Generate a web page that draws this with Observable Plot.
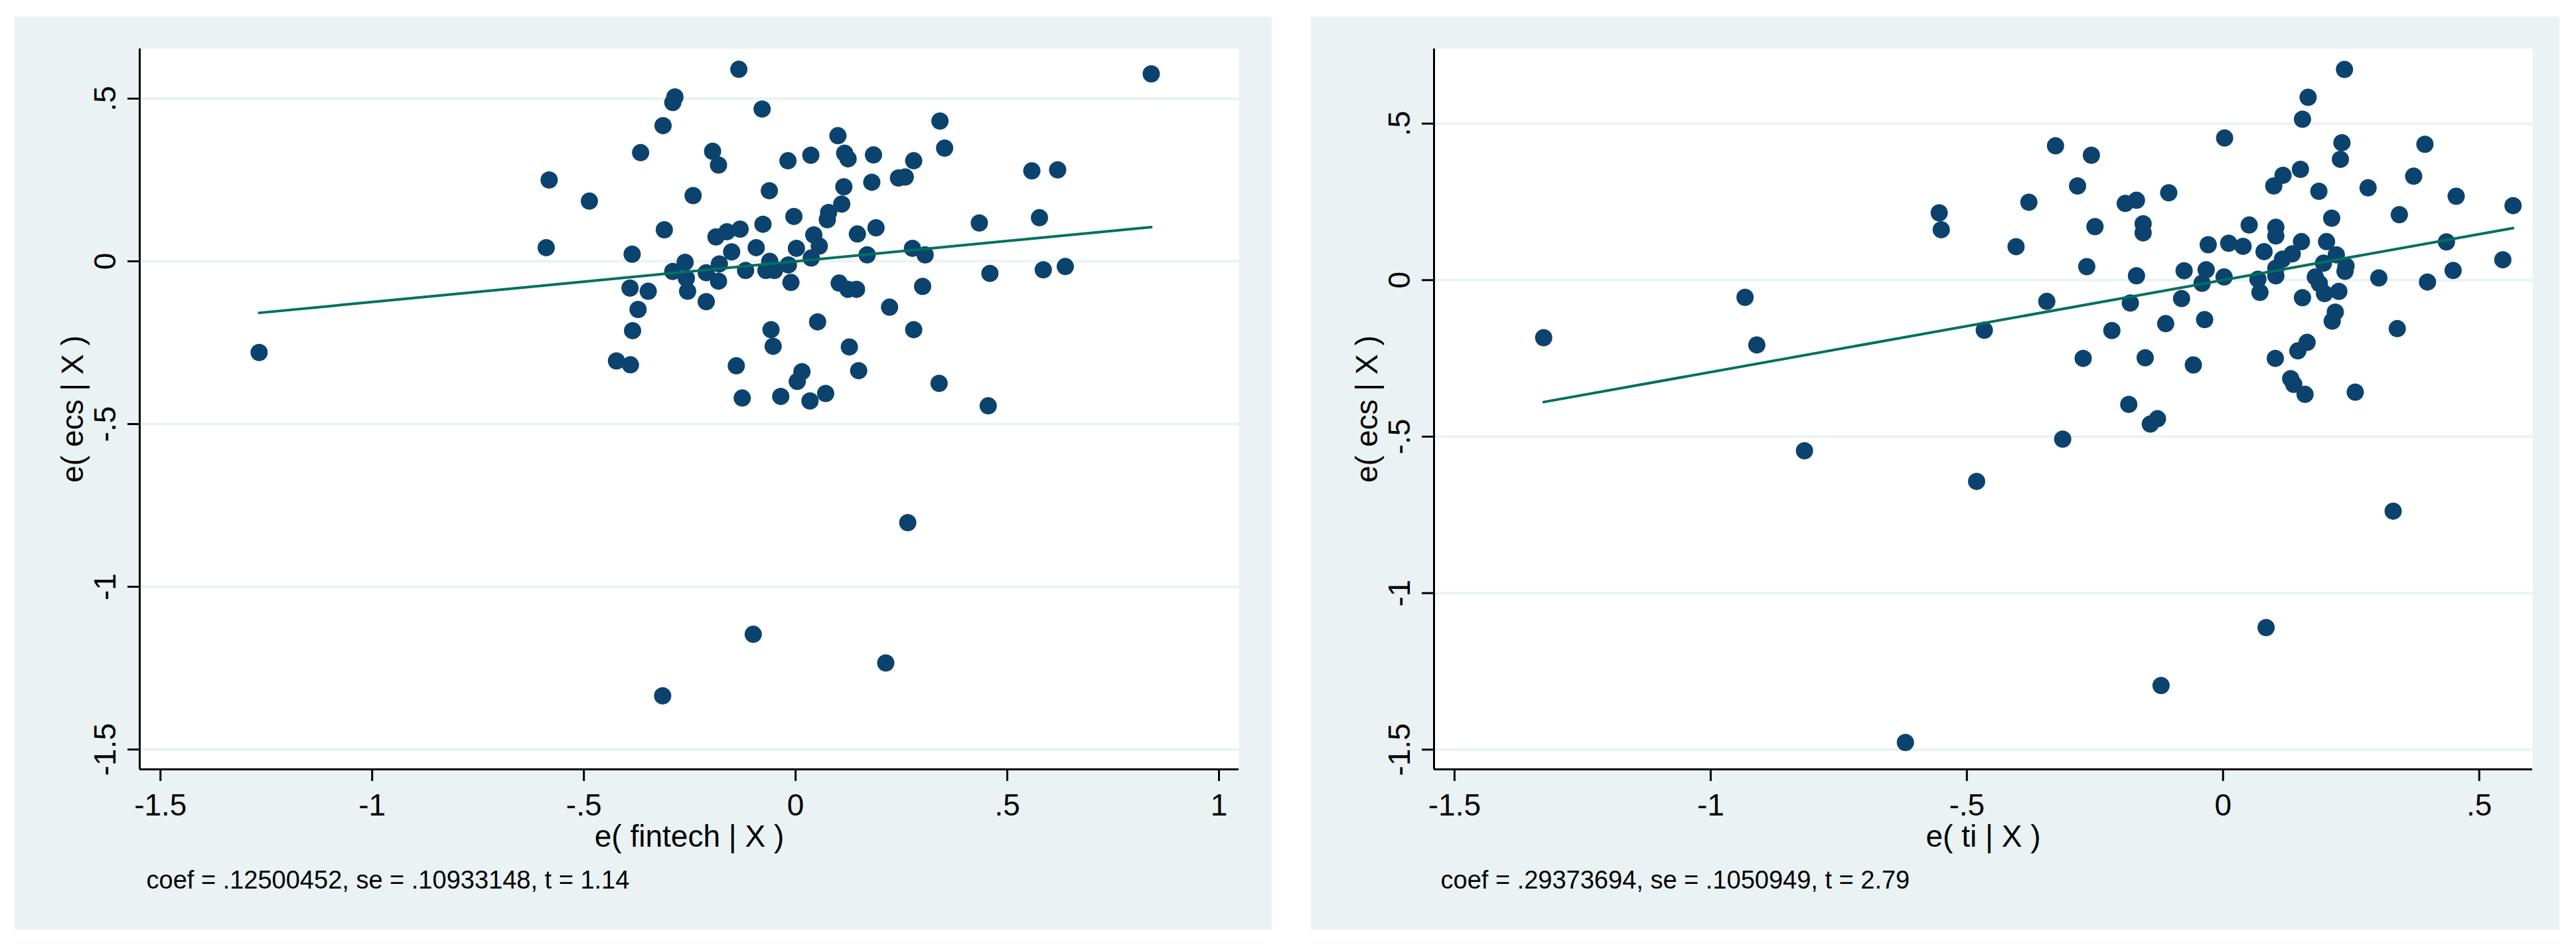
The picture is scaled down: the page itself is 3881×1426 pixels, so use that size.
<!DOCTYPE html>
<html><head><meta charset="utf-8">
<script src="https://cdn.jsdelivr.net/npm/d3@7"></script>
<script src="https://cdn.jsdelivr.net/npm/@observablehq/plot@0.6"></script>
<style>
html,body{margin:0;padding:0;background:#fff;}
#page{position:relative;width:3881px;height:1426px;background:#fff;overflow:hidden;font-family:"Liberation Sans",Arial,sans-serif;}
.panel{position:absolute;background:#eaf2f3;}
</style></head><body><div id="page"></div>
<script>
// Left panel: e( fintech | X ) vs e( ecs | X )
const fintechX = [-0.134,-0.290,-0.285,-0.079,-0.313,0.341,0.100,-0.366,-0.196,-0.182,-0.018,0.036,0.116,0.124,0.184,0.279,0.352,0.558,0.619,-0.582,-0.487,-0.242,-0.062,0.114,0.180,0.243,0.259,0.109,0.078,0.075,-0.310,-0.004,-0.077,0.434,0.576,-0.188,-0.162,-0.131,0.146,0.190,0.043,0.056,-0.589,-0.386,-0.151,-0.093,0.002,0.037,0.169,0.276,0.306,-0.290,-0.261,-0.258,-0.211,-0.180,-0.182,-0.118,-0.061,-0.070,-0.050,-0.017,-0.011,-0.391,-0.348,-0.255,-0.211,-0.372,-0.385,0.103,0.124,0.144,0.300,0.459,0.585,0.637,0.222,0.052,-0.058,-0.053,0.279,0.127,-0.423,-0.390,-0.140,0.015,0.004,0.149,0.339,-0.126,-0.035,0.034,0.071,0.455,0.265,-0.100,0.213,-0.314,-1.267,0.840];
const fintechY = [0.590,0.488,0.505,0.468,0.417,0.431,0.386,0.334,0.338,0.296,0.309,0.326,0.332,0.315,0.327,0.309,0.348,0.278,0.281,0.250,0.185,0.202,0.217,0.229,0.243,0.256,0.259,0.176,0.150,0.128,0.097,0.138,0.114,0.118,0.134,0.075,0.091,0.099,0.084,0.103,0.081,0.047,0.042,0.022,0.029,0.042,0.040,0.010,0.020,0.040,0.020,-0.031,-0.003,-0.052,-0.035,-0.008,-0.061,-0.028,0.000,-0.028,-0.028,-0.011,-0.065,-0.082,-0.092,-0.092,-0.124,-0.148,-0.213,-0.067,-0.086,-0.086,-0.077,-0.037,-0.026,-0.016,-0.141,-0.186,-0.210,-0.261,-0.210,-0.263,-0.306,-0.318,-0.321,-0.339,-0.369,-0.336,-0.375,-0.420,-0.415,-0.429,-0.406,-0.444,-0.803,-1.146,-1.234,-1.335,-0.280,0.576];

// Right panel: e( ti | X ) vs e( ecs | X )
const tiX = [0.237,0.166,0.155,0.003,-0.327,-0.257,0.232,0.229,0.394,0.151,0.117,0.099,0.372,-0.284,0.283,0.187,-0.106,0.455,-0.379,-0.191,-0.169,0.566,-0.554,-0.550,0.212,0.344,-0.250,-0.156,-0.156,0.051,0.103,0.103,-0.404,-0.029,0.011,0.039,0.080,0.153,0.202,0.135,0.116,0.103,0.103,0.221,0.240,0.238,0.196,-0.266,-0.169,-0.076,-0.033,-0.041,0.002,0.068,0.072,0.180,0.188,0.198,0.226,0.304,0.399,0.449,0.546,0.436,0.155,-0.344,-0.181,-0.081,-0.466,-0.217,-0.112,-0.036,0.219,0.213,0.340,0.164,0.146,-0.273,-0.152,-0.058,0.102,0.132,0.138,0.160,0.258,-0.184,-0.128,-0.142,-0.313,-0.481,0.332,0.084,-0.121,-0.620,-1.326,-0.933,-0.910,-0.817];
const tiY = [0.673,0.584,0.514,0.454,0.429,0.399,0.439,0.386,0.434,0.354,0.335,0.301,0.332,0.301,0.295,0.284,0.279,0.268,0.249,0.245,0.255,0.238,0.215,0.161,0.198,0.209,0.171,0.180,0.151,0.176,0.169,0.141,0.107,0.113,0.118,0.108,0.091,0.123,0.123,0.084,0.067,0.038,0.014,0.081,0.045,0.028,0.054,0.043,0.014,0.030,0.033,-0.010,0.010,0.003,-0.039,0.010,-0.011,-0.043,-0.036,0.007,-0.006,0.031,0.065,0.122,-0.056,-0.068,-0.073,-0.059,-0.160,-0.161,-0.139,-0.126,-0.102,-0.131,-0.155,-0.199,-0.226,-0.250,-0.248,-0.271,-0.250,-0.315,-0.333,-0.365,-0.358,-0.397,-0.443,-0.460,-0.508,-0.643,-0.738,-1.110,-1.295,-1.477,-0.184,-0.055,-0.207,-0.545];

const xTicksLeft = [-1.5,-1,-0.5,0,0.5,1];
const xTicksRight = [-1.5,-1,-0.5,0,0.5];
const yTicks = [-1.5,-1,-0.5,0,0.5];
const xTitles = ["e( fintech | X )","e( ti | X )"];
const yTitle = "e( ecs | X )";
const coefs = [0.12500452, 0.29373694];
const ses = [0.10933148, 0.1050949];
const tstats = ["1.14", "2.79"];

const stataFmt = d => String(d).replace("0.", ".");
const decFmt = v => String(v).replace(/^0\./, ".");

const BG = "#eaf2f3";
const FONT = '"Liberation Sans", Arial, sans-serif';

function drawPanel(cfg) {
  const page = document.getElementById("page");
  const div = document.createElement("div");
  div.className = "panel";
  Object.assign(div.style, {left: cfg.left + "px", top: "25px", width: cfg.width + "px", height: "1375px"});
  page.appendChild(div);
  const pts = cfg.xs.map((x, i) => ({x, y: cfg.ys[i]}));
  const [x0, x1] = d3.extent(cfg.xs);
  const fit = [{x: x0, y: cfg.coef * x0}, {x: x1, y: cfg.coef * x1}];
  const caption = `coef = ${decFmt(cfg.coef)}, se = ${decFmt(cfg.se)}, t = ${cfg.t}`;
  const chart = Plot.plot({
    width: cfg.width, height: 1375,
    marginLeft: cfg.mLeft, marginRight: cfg.mRight, marginTop: 48, marginBottom: 242,
    style: {background: "transparent", maxWidth: "none", fontFamily: FONT, color: "black", overflow: "visible"},
    x: {domain: cfg.xDomain},
    y: {domain: cfg.yDomain},
    marks: [
      Plot.frame({fill: "white", stroke: "none"}),
      Plot.ruleY(yTicks, {stroke: BG, strokeWidth: 4}),
      Plot.dot(pts, {x: "x", y: "y", r: 13, fill: "#0b436e", stroke: "none"}),
      Plot.line(fit, {x: "x", y: "y", stroke: "#00705f", strokeWidth: 4}),
      Plot.ruleX([cfg.xDomain[0]], {stroke: "black", strokeWidth: 3}),
      Plot.ruleY([cfg.yDomain[0]], {stroke: "black", strokeWidth: 3}),
      Plot.axisX(cfg.xTicks, {tickSize: 18, tickPadding: 19, fontSize: 46, tickFormat: stataFmt, label: null, strokeWidth: 3}),
      Plot.axisY(yTicks, {tickSize: 18, tickPadding: 19, tickRotate: -90, fontSize: 46, tickFormat: stataFmt, label: null, strokeWidth: 3}),
      Plot.text([cfg.xTitle], {text: d => d, frameAnchor: "bottom", lineAnchor: "bottom", textAnchor: "middle", dy: 116, fontSize: 46}),
      Plot.text([yTitle], {text: d => d, frameAnchor: "left", rotate: -90, lineAnchor: "bottom", textAnchor: "middle", dx: -86, fontSize: 46}),
      Plot.text([caption], {text: d => d, frameAnchor: "bottom-left", textAnchor: "start", lineAnchor: "bottom", dx: 10, dy: 179, fontSize: 38})
    ]
  });
  div.appendChild(chart);
}

drawPanel({left: 22, width: 1894, mLeft: 188, mRight: 50, xs: fintechX, ys: fintechY,
  xDomain: [-1.549, 1.047], yDomain: [-1.561, 0.653], xTicks: xTicksLeft, xTitle: xTitles[0],
  coef: coefs[0], se: ses[0], t: tstats[0]});
drawPanel({left: 1975, width: 1881, mLeft: 185, mRight: 41, xs: tiX, ys: tiY,
  xDomain: [-1.540, 0.604], yDomain: [-1.563, 0.739], xTicks: xTicksRight, xTitle: xTitles[1],
  coef: coefs[1], se: ses[1], t: tstats[1]});
</script></body></html>
